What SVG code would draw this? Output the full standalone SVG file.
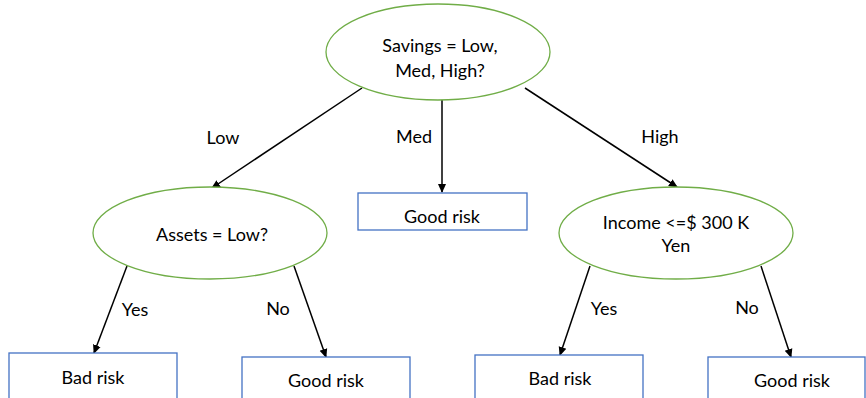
<svg xmlns="http://www.w3.org/2000/svg" width="866" height="398" viewBox="0 0 866 398">
  <style>
    .dec { fill: #ffffff; stroke: #70ad47; stroke-width: 1.3; }
    .leaf { fill: #ffffff; stroke: #4472c4; stroke-width: 1.3; }
    text { font-family: Lato, "Open Sans", "Liberation Sans", sans-serif; font-size: 18px; fill: #000000; text-anchor: middle; }
    .edge { stroke: #000000; stroke-width: 1.5; fill: none; marker-end: url(#arrow); }
  </style>
  <defs>
    <marker id="arrow" markerWidth="10" markerHeight="10" refX="8" refY="5" orient="auto" markerUnits="userSpaceOnUse">
      <path d="M0,1 L9,5 L0,9 z" fill="#000000"/>
    </marker>
  </defs>

  <!-- connectors and their labels -->
  <g id="connectors">
    <line class="edge" x1="362" y1="88" x2="212" y2="188"/>
    <line class="edge" x1="442" y1="100" x2="442" y2="192"/>
    <line class="edge" x1="525" y1="88" x2="677" y2="187"/>
    <line class="edge" x1="127" y1="266" x2="94" y2="353"/>
    <line class="edge" x1="294" y1="266" x2="326" y2="357"/>
    <line class="edge" x1="590" y1="266" x2="560" y2="355"/>
    <line class="edge" x1="761" y1="266" x2="791" y2="357"/>
    <text x="223" y="144">Low</text>
    <text x="414" y="143">Med</text>
    <text x="660" y="143">High</text>
    <text x="135" y="316">Yes</text>
    <text x="278" y="315">No</text>
    <text x="604" y="315">Yes</text>
    <text x="747" y="314">No</text>
  </g>

  <g id="savings">
    <ellipse class="dec" cx="438" cy="52" rx="112" ry="48"/>
    <text x="440" y="52">Savings = Low,</text>
    <text x="440" y="77">Med, High?</text>
  </g>

  <g id="assets">
    <ellipse class="dec" cx="210" cy="233" rx="117" ry="46"/>
    <text x="212" y="241">Assets = Low?</text>
  </g>

  <g id="med-good">
    <rect class="leaf" x="358" y="193" width="169" height="37"/>
    <text x="442" y="223">Good risk</text>
  </g>

  <g id="income">
    <ellipse class="dec" cx="676" cy="233" rx="117" ry="46"/>
    <text x="676" y="229">Income &lt;=$ 300 K</text>
    <text x="676" y="252">Yen</text>
  </g>

  <g id="low-bad">
    <rect class="leaf" x="9" y="353" width="168" height="60"/>
    <text x="93" y="384">Bad risk</text>
  </g>

  <g id="low-good">
    <rect class="leaf" x="242" y="357" width="168" height="60"/>
    <text x="326" y="387">Good risk</text>
  </g>

  <g id="high-bad">
    <rect class="leaf" x="475" y="355" width="168" height="60"/>
    <text x="560" y="385">Bad risk</text>
  </g>

  <g id="high-good">
    <rect class="leaf" x="708" y="357" width="157" height="60"/>
    <text x="792" y="387">Good risk</text>
  </g>
</svg>
